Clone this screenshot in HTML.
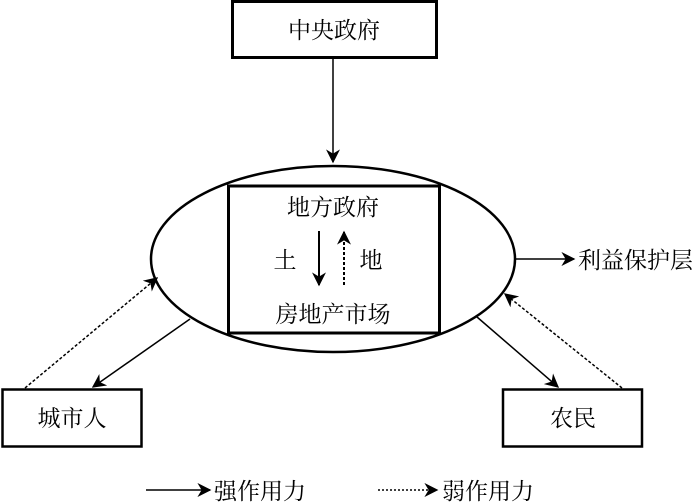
<!DOCTYPE html>
<html><head><meta charset="utf-8"><style>
html,body{margin:0;padding:0;background:#fff;}
svg{display:block;}
text{font-family:"Liberation Serif","Noto Serif CJK SC","Noto Sans CJK SC",serif;font-size:23px;fill:#000;}
</style></head><body>
<svg width="700" height="504" viewBox="0 0 700 504" xmlns="http://www.w3.org/2000/svg">
<defs>
<marker id="b" viewBox="0 0 10 10" refX="9" refY="5" markerWidth="14" markerHeight="14" markerUnits="userSpaceOnUse" orient="auto">
<path d="M0,0 L10,5 L0,10 L3,5 z" fill="#000"/></marker>
</defs>
<rect x="232.5" y="1.5" width="204" height="56" fill="#fff" stroke="#000" stroke-width="3"/>
<text x="334" y="38" text-anchor="middle">中央政府</text>
<line x1="333" y1="58" x2="333" y2="162" stroke="#000" stroke-width="1.5" marker-end="url(#b)"/>
<ellipse cx="333" cy="259" rx="182" ry="93" fill="none" stroke="#000" stroke-width="2.5"/>
<rect x="228.5" y="186" width="211" height="147" fill="none" stroke="#000" stroke-width="3"/>
<text x="333" y="215" text-anchor="middle">地方政府</text>
<text x="333" y="322" text-anchor="middle">房地产市场</text>
<text x="285" y="268" text-anchor="middle">土</text>
<text x="371" y="268" text-anchor="middle">地</text>
<line x1="319" y1="231" x2="319" y2="285" stroke="#000" stroke-width="2" marker-end="url(#b)"/>
<line x1="344" y1="285" x2="344" y2="232" stroke="#000" stroke-width="2" stroke-dasharray="3,2" marker-end="url(#b)"/>
<line x1="516" y1="259" x2="574" y2="259" stroke="#000" stroke-width="1.5" marker-end="url(#b)"/>
<text x="578" y="268">利益保护层</text>
<rect x="2.5" y="389.5" width="139" height="57" fill="#fff" stroke="#000" stroke-width="2.5"/>
<text x="72" y="426" text-anchor="middle">城市人</text>
<rect x="503" y="389.5" width="139" height="57" fill="#fff" stroke="#000" stroke-width="2.5"/>
<text x="573" y="426" text-anchor="middle">农民</text>
<line x1="190" y1="319" x2="93" y2="387" stroke="#000" stroke-width="1.5" marker-end="url(#b)"/>
<line x1="25" y1="388" x2="157" y2="278" stroke="#000" stroke-width="1.5" stroke-dasharray="3,2" marker-end="url(#b)"/>
<line x1="477" y1="317" x2="558" y2="387" stroke="#000" stroke-width="1.5" marker-end="url(#b)"/>
<line x1="622" y1="388" x2="505" y2="294" stroke="#000" stroke-width="1.5" stroke-dasharray="3,2" marker-end="url(#b)"/>
<line x1="146" y1="490" x2="210" y2="490" stroke="#000" stroke-width="1.5" marker-end="url(#b)"/>
<text x="214" y="499">强作用力</text>
<line x1="378" y1="490" x2="437" y2="490" stroke="#000" stroke-width="1.5" stroke-dasharray="2,2" marker-end="url(#b)"/>
<text x="442" y="499">弱作用力</text>
</svg>
</body></html>
